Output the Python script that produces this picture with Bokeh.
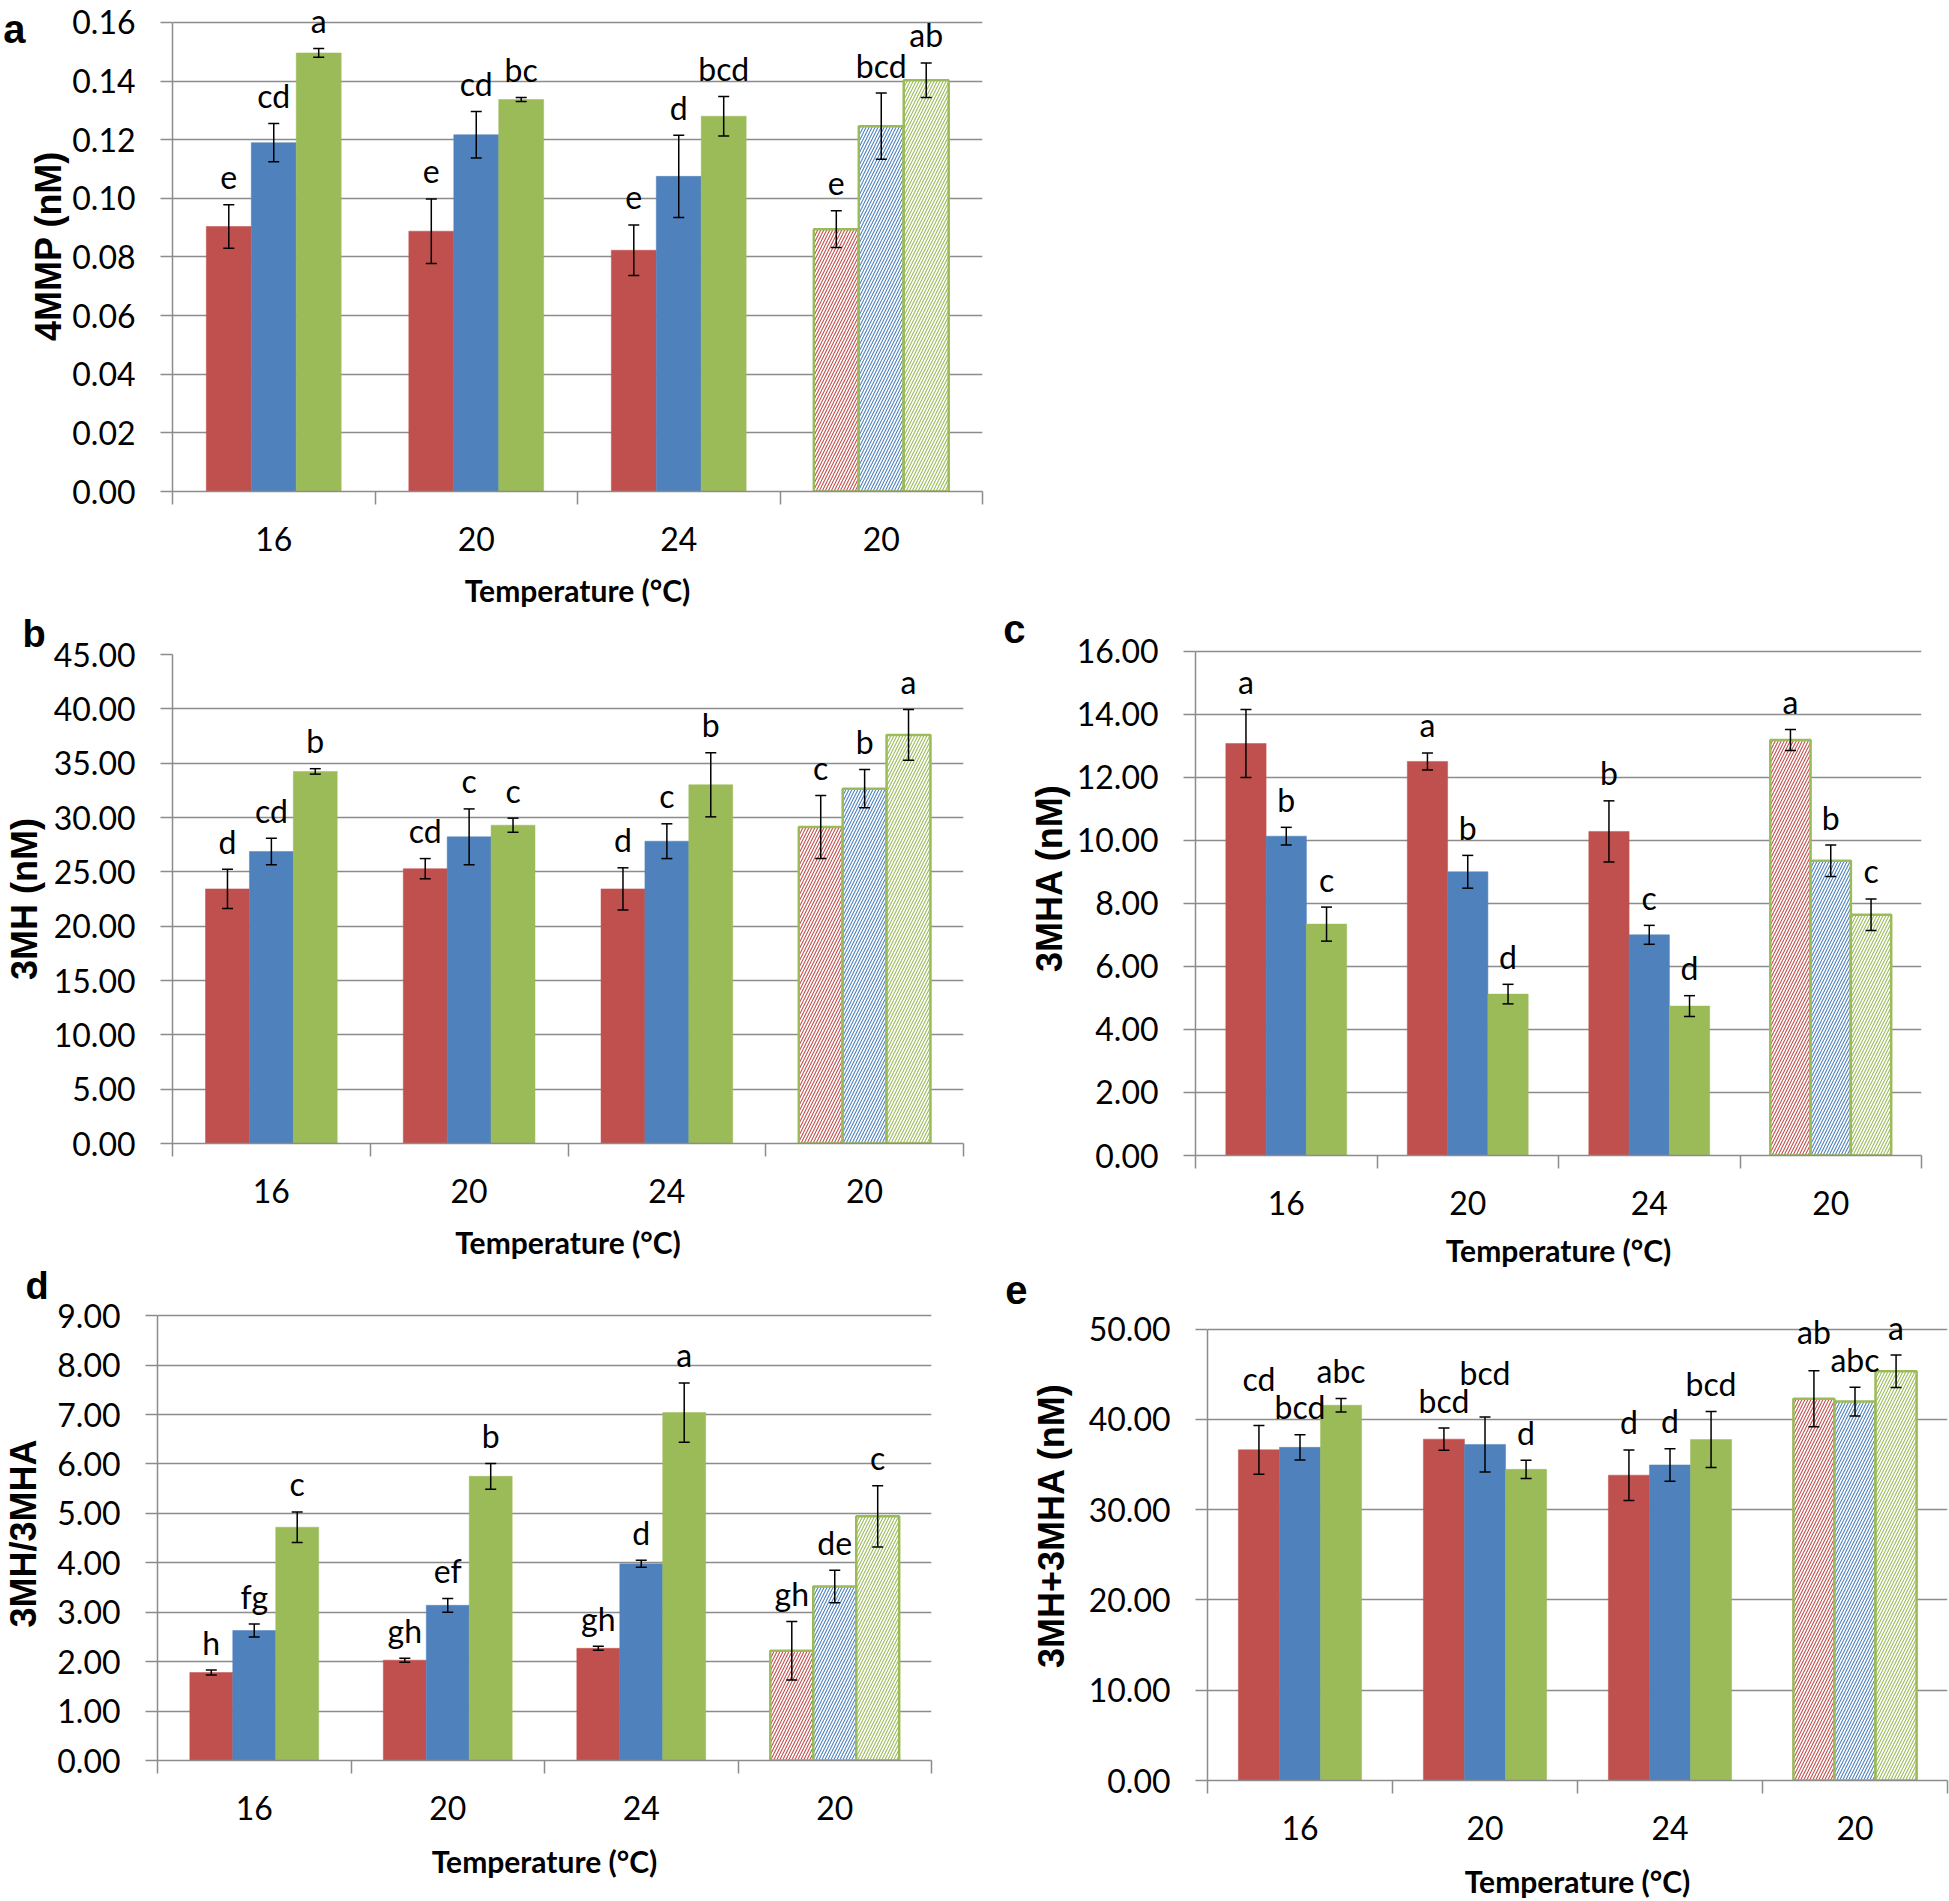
import numpy as np
from bokeh.plotting import figure
from bokeh.models import (Range1d, FixedTicker, PrintfTickFormatter, ColumnDataSource,
                          Whisker, TeeHead, LabelSet, Spacer, LinearAxis)
from bokeh.layouts import row, column
from bokeh.embed import file_html
from bokeh.resources import INLINE
from bokeh.core.properties import value, field

# ---------------- data ----------------
temperatures = ["16", "20", "24", "20"]
series_colors = ["#C0504D", "#4F81BD", "#9BBB59"]

# rows = temperature groups (last one hatched), columns = the three series
mmp4_mean = [[0.0904, 0.1190, 0.1496], [0.0888, 0.1217, 0.1337],
             [0.0823, 0.1075, 0.1280], [0.0895, 0.1246, 0.1403]]
mmp4_err = [[0.0074, 0.0065, 0.0015], [0.0110, 0.0079, 0.0007],
            [0.0086, 0.0140, 0.0067], [0.0063, 0.0113, 0.0059]]
mmp4_letters = [["e", "cd", "a"], ["e", "cd", "bc"], ["e", "d", "bcd"], ["e", "bcd", "ab"]]

mh3_mean = [[23.43, 26.87, 34.24], [25.29, 28.22, 29.29],
            [23.43, 27.82, 33.01], [29.13, 32.65, 37.60]]
mh3_err = [[1.80, 1.22, 0.25], [0.93, 2.57, 0.65],
           [1.94, 1.60, 2.95], [2.90, 1.76, 2.33]]
mh3_letters = [["d", "cd", "b"], ["cd", "c", "c"], ["d", "c", "b"], ["c", "b", "a"]]

mha3_mean = [[13.07, 10.13, 7.34], [12.50, 9.00, 5.12],
             [10.28, 7.00, 4.74], [13.18, 9.35, 7.64]]
mha3_err = [[1.08, 0.28, 0.54], [0.27, 0.52, 0.31],
            [0.97, 0.30, 0.33], [0.33, 0.50, 0.50]]
mha3_letters = [["a", "b", "c"], ["a", "b", "d"], ["b", "c", "d"], ["a", "b", "c"]]

ratio_mean = [[1.78, 2.63, 4.72], [2.03, 3.14, 5.75],
              [2.27, 3.98, 7.04], [2.22, 3.52, 4.94]]
ratio_err = [[0.05, 0.13, 0.31], [0.04, 0.14, 0.26],
             [0.04, 0.07, 0.60], [0.59, 0.33, 0.62]]
ratio_letters = [["h", "fg", "c"], ["gh", "ef", "b"], ["gh", "d", "a"], ["gh", "de", "c"]]

sum_mean = [[36.64, 36.91, 41.58], [37.82, 37.23, 34.47],
            [33.83, 34.96, 37.77], [42.30, 41.98, 45.33]]
sum_err = [[2.70, 1.40, 0.75], [1.22, 3.05, 1.00],
           [2.80, 1.80, 3.10], [3.10, 1.60, 1.80]]
sum_letters = [["cd", "bcd", "abc"], ["bcd", "bcd", "d"], ["d", "d", "bcd"], ["ab", "abc", "a"]]

# ---------------- styling ----------------
GRID = "#8C8C8C"
TICK_FONT = "Lato"
TITLE_FONT = "Liberation Sans"
BAR_W = 0.222
LETTER_PX = 32      # font size of the significance letters
LETTER_GAP = 28     # px from error-bar top to letter centre


def make_panel(tag, means, errs, letters, ymax, ystep, ylabel, width, height,
               left, right, g_top, g_bot, frame_top, tag_mode, tag_pos,
               ylab_standoff=6, xlab_standoff=18):
    bottom = int(round(height - g_bot))
    g_bot = height - bottom
    fw = width - left - right
    ppu = (g_bot - g_top) / ymax            # px per data unit
    y_top = ymax + (g_top - frame_top) / ppu
    p = figure(width=width, height=height, x_range=Range1d(0.5, 4.5), y_range=Range1d(0, y_top),
               output_backend="svg", toolbar_location=None,
               min_border_left=left, min_border_right=right,
               min_border_top=frame_top, min_border_bottom=bottom)
    try:
        p.frame_align = False
    except Exception:
        pass
    p.outline_line_color = None
    p.xgrid.visible = False
    p.ygrid.grid_line_color = GRID
    p.ygrid.grid_line_width = 1.5

    bar_px = BAR_W * fw / 4.0
    cols = {k: [] for k in ("x", "top", "upper", "lower", "letter", "label_y", "color", "hatched")}
    for g in range(len(temperatures)):
        # letter heights in px above the baseline; nudge overlapping neighbours upward
        ys = [(means[g][s] + errs[g][s]) * ppu + LETTER_GAP for s in range(3)]
        for s in range(1, 3):
            for t in range(s):
                dx = (s - t) * bar_px
                wsum = (len(letters[g][s]) + len(letters[g][t])) * 0.6 * LETTER_PX / 2
                if dx < wsum and abs(ys[s] - ys[t]) < 28:
                    hi, lo = (s, t) if ys[s] >= ys[t] else (t, s)
                    ys[hi] = ys[lo] + 28
        for s in range(3):
            m, e = means[g][s], errs[g][s]
            cols["x"].append(g + 1 + (s - 1) * BAR_W)
            cols["top"].append(m)
            cols["upper"].append(m + e)
            cols["lower"].append(m - e)
            cols["letter"].append(letters[g][s])
            cols["label_y"].append(ys[s] / ppu)
            cols["color"].append(series_colors[s])
            cols["hatched"].append(g == len(temperatures) - 1)
    full = ColumnDataSource(cols)
    idx_s = [i for i, h in enumerate(cols["hatched"]) if not h]
    idx_h = [i for i, h in enumerate(cols["hatched"]) if h]
    solid = ColumnDataSource({k: [v[i] for i in idx_s] for k, v in cols.items()})
    hatch = ColumnDataSource({k: [v[i] for i in idx_h] for k, v in cols.items()})

    p.vbar(x="x", top="top", width=BAR_W, bottom=0, source=solid,
           fill_color=field("color"), line_color=field("color"), line_width=0.5)
    p.vbar(x="x", top="top", width=BAR_W, bottom=0, source=hatch,
           fill_color="white", line_color="#9BBB59", line_width=2.5,
           hatch_pattern="/", hatch_color=field("color"), hatch_scale=6, hatch_weight=1.1)

    w = Whisker(source=full, base="x", upper="upper", lower="lower", dimension="height",
                line_color="black", line_width=1.5, level="annotation",
                upper_head=TeeHead(size=11, line_color="black", line_width=1.5),
                lower_head=TeeHead(size=11, line_color="black", line_width=1.5))
    p.add_layout(w)

    ls = LabelSet(x="x", y="label_y", text="letter", source=full, text_align="center",
                  text_baseline="middle", text_font=value(TICK_FONT),
                  text_font_size=value(f"{LETTER_PX}px"), text_color="black", level="annotation")
    p.add_layout(ls)

    xa = p.xaxis[0]
    xa.ticker = FixedTicker(ticks=[1, 2, 3, 4], minor_ticks=[0.5, 1.5, 2.5, 3.5, 4.5])
    xa.major_label_overrides = {i + 1: t for i, t in enumerate(temperatures)}
    xa.major_tick_out = 0
    xa.major_tick_in = 0
    xa.minor_tick_out = 13
    xa.minor_tick_in = 0
    xa.minor_tick_line_color = GRID
    xa.minor_tick_line_width = 1.5
    xa.axis_line_color = GRID
    xa.axis_line_width = 1.5
    xa.major_label_text_font = TICK_FONT
    xa.major_label_text_font_size = "32px"
    xa.major_label_text_color = "black"
    xa.major_label_standoff = 22
    xa.axis_label = "Temperature (°C)"
    xa.axis_label_text_font = TICK_FONT
    xa.axis_label_text_font_style = "bold"
    xa.axis_label_text_font_size = "30px"
    xa.axis_label_text_color = "black"
    xa.axis_label_standoff = xlab_standoff

    ya = p.yaxis[0]
    nt = int(round(ymax / ystep))
    ya.ticker = FixedTicker(ticks=[round(i * ystep, 6) for i in range(nt + 1)], minor_ticks=[])
    ya.formatter = PrintfTickFormatter(format="%.2f")
    ya.bounds = (0, ymax)
    ya.major_tick_out = 12
    ya.major_tick_in = 0
    ya.minor_tick_out = 0
    ya.minor_tick_in = 0
    ya.major_tick_line_color = GRID
    ya.major_tick_line_width = 1.5
    ya.axis_line_color = GRID
    ya.axis_line_width = 1.5
    ya.major_label_text_font = TICK_FONT
    ya.major_label_text_font_size = "32px"
    ya.major_label_text_color = "black"
    ya.major_label_standoff = 25
    ya.axis_label = ylabel
    ya.axis_label_text_font = TITLE_FONT
    ya.axis_label_text_font_style = "bold"
    ya.axis_label_text_font_size = "36px"
    ya.axis_label_text_color = "black"
    ya.axis_label_standoff = ylab_standoff

    # panel tag
    if tag_mode == "axis":
        # an outer left axis whose single label is the panel letter
        ty = y_top - (tag_pos - frame_top) / ppu
        ta = LinearAxis(ticker=FixedTicker(ticks=[ty], minor_ticks=[]),
                        formatter=PrintfTickFormatter(format=tag),
                        axis_line_color=None, major_tick_line_color=None,
                        minor_tick_line_color=None, major_tick_out=0, major_tick_in=0,
                        minor_tick_out=0, minor_tick_in=0, major_label_standoff=0,
                        major_label_text_font=TITLE_FONT,
                        major_label_text_font_style="bold",
                        major_label_text_font_size="40px",
                        major_label_text_color="black")
        p.add_layout(ta, "left")
    else:
        p.title.text = tag
        p.title.align = "left"
        p.title.offset = tag_pos - left
        p.title.standoff = 0
        p.title.text_font = TITLE_FONT
        p.title.text_font_style = "bold"
        p.title.text_font_size = "38px"
        p.title.text_color = "black"
    return p


pa = make_panel("a", mmp4_mean, mmp4_err, mmp4_letters, 0.16, 0.02, "4MMP (nM)",
                1000, 610, 168, 18, 22, 492, 0, "axis", 16,
                ylab_standoff=0, xlab_standoff=18)
pb = make_panel("b", mh3_mean, mh3_err, mh3_letters, 45, 5, "3MH (nM)",
                1000, 652, 168, 37, 44, 534, 44, "title", 18,
                ylab_standoff=6, xlab_standoff=18)
pd = make_panel("d", ratio_mean, ratio_err, ratio_letters, 9, 1, "3MH/3MHA",
                1000, 639, 150, 69, 53.2, 498, 44, "title", 18,
                ylab_standoff=10, xlab_standoff=20)
pc = make_panel("c", mha3_mean, mha3_err, mha3_letters, 16, 2, "3MHA (nM)",
                949, 670, 189, 28, 50.7, 556, 0, "axis", 16,
                ylab_standoff=4, xlab_standoff=14)
pe = make_panel("e", sum_mean, sum_err, sum_letters, 50, 10, "3MH+3MHA (nM)",
                949, 631, 207, 2, 58.7, 510, 0, "axis", 19,
                ylab_standoff=14, xlab_standoff=20)

layout = row(column(pa, pb, pd), column(Spacer(width=949, height=600), pc, pe))

open("out.html", "w").write(file_html(layout, INLINE))
